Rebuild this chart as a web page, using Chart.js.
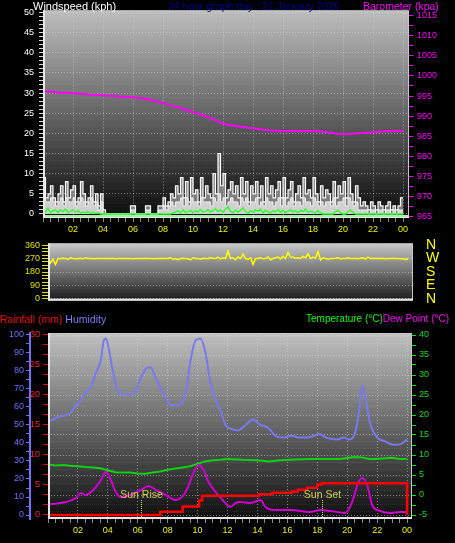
<!DOCTYPE html>
<html>
<head>
<meta charset="utf-8">
<script src="https://cdn.jsdelivr.net/npm/chart.js@4.4.1/dist/chart.umd.min.js"></script>
<style>
  html, body { margin: 0; padding: 0; background: #000; }
  body { width: 455px; height: 543px; position: relative; overflow: hidden; font-family: "Liberation Sans", Arial, sans-serif; }
  canvas { position: absolute; left: 0; }
  .t { position: absolute; white-space: nowrap; line-height: 12px; z-index: 2; }
</style>
</head>
<body>
<canvas id="wind" width="455" height="236" style="top:0"></canvas>
<canvas id="dir" width="455" height="100" style="top:222px"></canvas>
<canvas id="temp" width="455" height="227" style="top:316px"></canvas>

<div class="t" style="left:33px;top:0;font-size:11px;color:#fff">Windspeed (kph)</div>
<div class="t" style="left:168px;top:0;font-size:10.5px;color:#000090">24 hour graph day : 21 January 2026</div>
<div class="t" style="left:363px;top:0;font-size:10.5px;color:#ff00ff">Barometer (kpa)</div>
<div class="t" style="left:0;top:313px;font-size:10.5px"><span style="color:#ff0000">Rainfall (mm)</span> <span style="color:#7c7cff">Humidity</span></div>
<div class="t" style="left:306px;top:313px;font-size:10px"><span style="color:#00ff00">Temperature (°C)</span><span style="color:#ff00ff">Dew Point (°C)</span></div>

<script>
// 10 minute samples, 00:00 .. 24:00
const windGust = [
  9,4,5,7,4,3, 5,7,3,8,4,6, 7,3,4,8,5,3, 4,7,3,5,2,5,
  1,0,0,0,0,0, 0,0,0,0,0,2, 2,0,0,0,0,2, 2,0,0,0,2,2,
  4,2,3,5,4,7, 5,9,4,8,3,9, 5,6,3,9,4,7, 5,4,10,5,15,7,
  10,4,6,8,5,7, 4,9,5,8,3,7, 5,8,4,7,3,9, 5,7,4,6,8,4,
  9,4,6,8,3,5, 7,4,9,5,6,4, 9,5,3,7,4,6, 5,3,8,4,7,5,
  8,4,9,5,3,7, 4,2,3,2,1,3, 2,1,3,2,1,2, 3,1,2,1,2,4, 4
];
const windAvg = [
  4,3,3,4,3,2, 3,4,2,4,3,3, 4,2,3,4,3,2, 3,4,2,3,1,3,
  0,0,0,0,0,0, 0,0,0,0,0,1, 1,0,0,0,0,1, 1,0,0,0,1,1,
  2,1,2,3,2,3, 3,4,2,4,2,4, 3,3,2,4,3,3, 3,2,4,3,5,3,
  4,2,3,4,3,3, 2,4,3,4,2,3, 3,4,2,3,2,4, 3,3,2,3,4,2,
  4,2,3,4,2,3, 3,2,4,3,3,2, 4,3,2,3,2,3, 3,2,4,2,3,3,
  4,2,4,3,2,3, 1,1,1,1,0,1, 1,0,1,1,0,1, 1,0,1,0,1,1, 1
];
const windSpeed = [
  1.2,0.5,1.5,0.3,0.8,1.0, 0.4,1.0,0.6,1.2,0.3,0.7, 1.0,0.4,0.8,0.2,0.5,0.3, 0.6,0.2,0.4,0.1,0.3,0,
  0,0,0,0,0,0, 0,0,0,0,0,0, 0,0,0,0,0,0, 0,0,0,0,0,0,
  0,0,0,0,0.3,0.5, 0.8,0.2,1.0,0.4,0.6,0.9, 0.3,0.8,0.5,1.1,0.4,0.7, 1.0,0.5,0.9,1.3,0.6,1.0,
  0.4,1.2,1.8,0.7,0.3,1.0, 0.5,0.9,1.5,0.6,0.2,0.8, 0.4,1.0,0.7,1.2,0.3,0.9, 0.6,0.2,0.8,0.5,1.1,0.4,
  0.9,0.3,0.7,1.0,0.5,0.8, 0.3,0.9,0.6,1.2,0.4,0.7, 0.5,0.2,0.8,0.3,0,0, 0,0,0,0.6,0.9,0.3,
  0,0,0.5,1.0,0.4,0, 0,0,0,0,0,0, 0,0,0,0,0,0, 0,0,0,0,0,0, 0
];
const windDir = [
  275,240,265,230,270,268, 272,270,265,275,270,268, 270,272,268,275,270,270, 270,268,272,270,270,270,
  270,270,272,268,270,270, 270,270,270,270,268,270, 270,270,270,272,270,270, 268,270,270,270,272,270,
  270,275,265,270,262,270, 272,270,268,262,275,270, 270,265,272,270,270,275, 272,270,280,268,275,270,
  320,270,275,262,280,270, 300,270,265,275,230,270, 270,275,268,270,280,262, 270,275,280,268,285,270,
  310,280,278,272,275,270, 285,275,300,270,280,272, 315,260,275,270,265,270, 270,272,275,268,270,270,
  275,270,270,272,268,272, 275,268,280,270,272,270, 270,272,270,268,270,270, 272,270,270,268,270,262, 270
];
// hourly barometer, hPa
const baroValues = [996.2,995.9,995.7,995.4,995.2,994.9,994.7,994.2,993.2,992.2,991.0,989.8,988.2,
  987.5,987.0,986.5,986.3,986.3,986.3,986.0,985.5,985.8,986.0,986.3,986.3];

const humHours = [0,0.33,0.67,1.2,1.53,1.87,2.2,2.53,2.87,3.2,3.53,3.73,3.87,4.07,4.33,4.67,5.0,5.53,5.87,6.2,
  6.67,6.87,7.2,7.67,8.2,8.67,9.2,9.53,9.87,10.2,10.53,10.87,11.2,11.53,11.87,12.2,12.7,13.2,13.7,14.2,14.7,
  15.2,15.7,16.3,16.8,17.3,17.8,18.1,18.6,19.3,19.8,20.1,20.5,20.8,21.0,21.2,21.5,22.0,22.5,23.1,23.6,24];
const humValues = [52,53,54.5,55.5,57,61,64,68,71,79,86,97,98,92,80,69,67,67,69,76,
  82,82,76,68,61,61,68,86,97,98,90,73,64,58,50,48,47,50,53,50,48.5,
  44,43,44,43,43,44,45,43,42,43,42,45,58,72,66,52,43,41,39,39.5,42];

const tempHours = [0,0.5,1,1.5,2,2.5,3,3.5,4,4.5,5,5.5,6,6.5,7,7.5,8,8.5,9,9.5,10,10.5,11,11.5,12,13,14,14.8,
  15.5,16.5,17.5,18.5,19.5,20.5,21,21.5,22,22.5,23,23.5,24];
const tempValues = [7.6,7.4,7.5,7.3,7.2,7.0,6.9,6.7,6.2,5.7,5.6,5.6,5.4,5.3,5.6,5.9,6.3,6.6,6.9,7.2,7.8,8.4,8.7,8.8,9.0,8.8,8.7,8.4,
  8.7,8.9,9.0,9.0,9.0,9.5,9.4,9.0,9.0,9.2,9.3,9.0,9.0];

const dewHours = [0,0.33,0.8,1.2,1.87,2.2,2.53,2.87,3.2,3.53,3.87,4.2,4.53,4.87,5.53,6.2,6.73,7.2,7.87,8.53,9.2,9.67,
  10.07,10.33,10.73,11.2,11.67,12.2,12.53,12.87,13.53,14.2,14.53,15.2,16.2,17.53,18.2,18.87,19.87,20.33,20.73,21.0,
  21.33,21.67,22.2,22.87,23.53,24];
const dewValues = [-2.25,-2.25,-2.0,-1.75,-0.75,0.5,0,0.75,2,3.75,5.75,3.75,0.75,-0.5,0,1.25,2.25,1.25,0,-1.25,0.75,5,
  7.5,6.75,3.25,0.75,-1.25,-3,-2,-1.75,-2,-1.25,-3,-3.75,-3.75,-4.25,-3.75,-4,-4.5,-1.75,3,4.25,
  2.5,-2.5,-4,-4.5,-4.25,-4.25];

const rainHours = [0,7.5,9.0,9.9,10.1,10.3,14.1,15.0,16.3,16.7,17.3,18.0,18.3,23.97,24];
const rainValues = [0,0.55,1.4,1.4,2.4,3.2,3.45,3.7,3.9,4.2,4.55,5.1,5.3,5.3,0];

const sunHours = [6.2, 18.3];
const sunLabels = ["Sun Rise", "Sun Set"];
const compass = { 0: "N", 90: "E", 180: "S", 270: "W", 360: "N" };

// helpers
const FONT = "'Liberation Sans', Arial, sans-serif";
const GRID = "rgba(215,215,215,0.55)";
const pts10 = arr => arr.map((v, i) => ({ x: i / 6, y: v }));
const pair = (xs, ys) => xs.map((x, i) => ({ x: x, y: ys[i] }));
function steps(a, b, step) {
  const out = [];
  const n = Math.round((b - a) / step);
  for (let i = 0; i <= n; i++) out.push(a + i * step);
  return out;
}
const setTicks = vals => scale => { scale.ticks = vals.map(v => ({ value: v })); };
const isMul = (v, m) => Math.abs(v - Math.round(v / m) * m) < 0.01;
const hourLabel = v => (isMul(v, 2) && v > 0) ? String(Math.round(v) % 24).padStart(2, "0") : "";

const plotBg = {
  id: "plotBg",
  beforeDraw(chart, args, o) {
    const { ctx, chartArea: a } = chart;
    const g = ctx.createLinearGradient(0, a.top, 0, a.bottom);
    g.addColorStop(0, o.top);
    g.addColorStop(1, o.bottom);
    ctx.save();
    ctx.fillStyle = g;
    ctx.fillRect(a.left, a.top, a.width, a.height);
    // faint dithered bands like the original bitmap
    ctx.fillStyle = "rgba(255,255,255,0.07)";
    for (let y = a.top + 3; y < a.bottom; y += 7) {
      for (let x = a.left; x < a.right; x += 2) ctx.fillRect(x, y, 1, 1);
    }
    ctx.restore();
  },
  afterDatasetsDraw(chart, args, o) {
    const { ctx, chartArea: a } = chart;
    ctx.save();
    ctx.strokeStyle = "#c8c8c8";
    ctx.lineWidth = 1;
    ctx.strokeRect(a.left + 0.5, a.top + 0.5, a.width - 1, a.height - 1);
    ctx.fillStyle = "#e8e8e8";
    ctx.fillRect(a.left, a.top, 2, a.height);
    ctx.fillRect(a.left, a.bottom - 2, a.width, 2);
    if (o.baseLine) {
      ctx.fillStyle = o.baseLine;
      ctx.fillRect(a.left + 2, a.bottom - 3, a.width - 2, 2);
    }
    ctx.restore();
  }
};

const sunPlugin = {
  id: "sun",
  afterDatasetsDraw(chart) {
    const { ctx, chartArea: a, scales } = chart;
    ctx.save();
    ctx.strokeStyle = "#e0e040";
    ctx.fillStyle = "#d0d050";
    ctx.lineWidth = 1;
    ctx.setLineDash([1, 1]);
    ctx.font = "10.5px " + FONT;
    ctx.textAlign = "center";
    ctx.textBaseline = "middle";
    sunHours.forEach((h, i) => {
      const x = Math.round(scales.x.getPixelForValue(h)) + 0.5;
      ctx.beginPath();
      ctx.moveTo(x, a.bottom - 19);
      ctx.lineTo(x, a.bottom);
      ctx.stroke();
      ctx.fillText(sunLabels[i], x, a.bottom - 24);
    });
    ctx.restore();
  }
};

function xAxis(max, height, show) {
  return {
    type: "linear", position: "bottom", min: 0, max: max, display: show ? true : false,
    afterBuildTicks: setTicks(steps(0, 24, 0.5)),
    afterFit: s => { s.height = height; },
    ticks: { color: "#f0f000", font: { family: FONT, size: 9 }, autoSkip: false, maxRotation: 0, padding: 2, callback: hourLabel },
    grid: { color: c => (c.tick && isMul(c.tick.value, 2) && c.tick.value > 0) ? GRID : "transparent", tickColor: "#8a8a8a", tickLength: 4 },
    border: { display: false, dash: [1, 2] }
  };
}

function yAxis(o) {
  return {
    type: "linear", position: o.position, min: o.min, max: o.max, weight: o.weight || 0,
    afterBuildTicks: setTicks(o.ticks),
    afterFit: s => { s.width = o.width; },
    ticks: {
      color: o.color, font: { family: FONT, size: o.size || 9 }, autoSkip: false, padding: o.pad,
      callback: o.label || (v => isMul(v, o.major) ? Math.round(v) : "")
    },
    grid: {
      drawOnChartArea: !!o.grid, drawTicks: o.tickLen > 0,
      color: c => (c.tick && isMul(c.tick.value, o.major)) ? GRID : "transparent",
      tickColor: o.tickColor || o.color, tickLength: o.tickLen
    },
    border: { display: !!o.border, color: o.border, width: 2, dash: [1, 2] }
  };
}

const common = {
  responsive: false, animation: false, events: [],
  plugins: { legend: { display: false }, tooltip: { enabled: false } },
  elements: { point: { radius: 0 }, line: { tension: 0 } }
};

// windspeed + barometer
new Chart(document.getElementById("wind"), {
  type: "line",
  data: {
    datasets: [
      { data: pts10(windSpeed), borderColor: "#30ff30", borderWidth: 1.5, yAxisID: "y" },
      { data: baroValues.map((v, i) => ({ x: i, y: v })), borderColor: "#ff00ff", borderWidth: 2, yAxisID: "baro", cubicInterpolationMode: "monotone" },
      { data: pts10(windAvg), borderColor: "#f0f0f0", backgroundColor: "rgba(225,225,225,0.85)", fill: "origin", borderWidth: 1, stepped: true, yAxisID: "y" },
      { data: pts10(windGust), borderColor: "#ffffff", backgroundColor: "rgba(205,205,205,0.55)", fill: "origin", borderWidth: 1.2, stepped: true, yAxisID: "y" }
    ]
  },
  options: Object.assign({}, common, {
    layout: { padding: { top: 10, left: 0, right: 0, bottom: 0 } },
    scales: {
      x: xAxis(24.4, 18, true),
      y: yAxis({ position: "left", min: -1, max: 50.5, ticks: steps(0, 50, 1), major: 5, width: 43, color: "#ffffff", pad: 5, tickLen: 4, tickColor: "#d8d8d8", grid: true }),
      baro: yAxis({ position: "right", min: 964.75, max: 1016.24, ticks: steps(965, 1015, 2.5), major: 5, width: 46, color: "#ff00ff", pad: 4, tickLen: 4 })
    },
    plugins: Object.assign({}, common.plugins, { plotBg: { top: "#bdbdbd", bottom: "#0a0a0a", baseLine: "#a8f0a8" } })
  }),
  plugins: [plotBg]
});

// wind direction
new Chart(document.getElementById("dir"), {
  type: "line",
  data: { datasets: [ { data: pts10(windDir), borderColor: "#ffff00", borderWidth: 1.5, yAxisID: "y" } ] },
  options: Object.assign({}, common, {
    layout: { padding: { top: 17, left: 0, right: 0, bottom: 16 } },
    scales: {
      x: xAxis(24.33, 0, false),
      y: yAxis({ position: "left", min: -11, max: 371, ticks: steps(0, 360, 22.5), major: 90, width: 48, color: "#e0e000", pad: 2, tickLen: 6, grid: true }),
      dir: yAxis({ position: "right", min: -11, max: 371, ticks: [0, 90, 180, 270, 360], major: 90, width: 42, color: "#ffff00", pad: 13, tickLen: 0, size: 14,
        label: v => compass[Math.round(v)] || "" })
    },
    plugins: Object.assign({}, common.plugins, { plotBg: { top: "#c8c8c8", bottom: "#181818" } })
  }),
  plugins: [plotBg]
});

// rainfall, humidity, temperature, dew point
new Chart(document.getElementById("temp"), {
  type: "line",
  data: {
    datasets: [
      { data: pair(rainHours, rainValues), borderColor: "#ff0000", borderWidth: 2.5, stepped: true, yAxisID: "rain" },
      { data: pair(dewHours, dewValues), borderColor: "#d000d0", borderWidth: 2, yAxisID: "temp", cubicInterpolationMode: "monotone" },
      { data: pair(tempHours, tempValues), borderColor: "#10d010", borderWidth: 2, yAxisID: "temp" },
      { data: pair(humHours, humValues), borderColor: "#7878f0", borderWidth: 2, yAxisID: "hum", cubicInterpolationMode: "monotone" }
    ]
  },
  options: Object.assign({}, common, {
    layout: { padding: { top: 17, left: 0, right: 0, bottom: 0 } },
    scales: {
      x: xAxis(24.33, 24, true),
      hum: yAxis({ position: "left", weight: 1, min: -2.22, max: 101.1, ticks: steps(0, 100, 5), major: 10, width: 30, color: "#7070ff", pad: 2, tickLen: 4, border: "#7070ff" }),
      rain: yAxis({ position: "left", weight: 0, min: -0.667, max: 30.33, ticks: steps(0, 30, 5 / 3), major: 5, width: 18, color: "#ff2020", pad: 3, tickLen: 5, tickColor: "#e00000" }),
      temp: yAxis({ position: "right", min: -6, max: 40.5, ticks: steps(-5, 40, 2.5), major: 5, width: 43, color: "#10e010", pad: 3, tickLen: 4, grid: true })
    },
    plugins: Object.assign({}, common.plugins, { plotBg: { top: "#c0c0c0", bottom: "#0e0e0e" } })
  }),
  plugins: [plotBg, sunPlugin]
});
</script>
</body>
</html>
